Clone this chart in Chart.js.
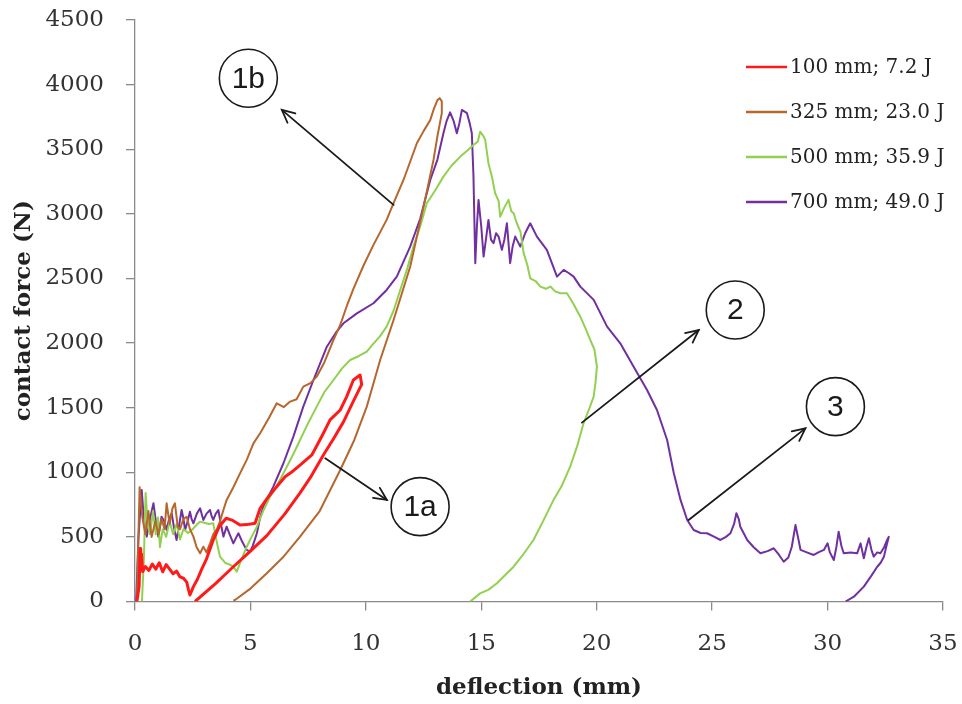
<!DOCTYPE html>
<html lang="en">
<head>
<meta charset="UTF-8">
<title>Contact force vs deflection</title>
<script src="https://cdn.jsdelivr.net/npm/chart.js"></script>
<style>
  html, body { margin: 0; padding: 0; background: #fff; }
</style>
</head>
<body>
<canvas id="chart" width="962" height="704"></canvas>
<script>
// values: [deflection (mm), contact force (N)]
const red = [[0.08,0],[0.18,120],[0.22,410],[0.25,250],[0.28,370],[0.33,230],[0.45,270],[0.6,240],[0.75,290],[0.9,250],[1.05,300],[1.2,230],[1.35,285],[1.5,250],[1.65,215],[1.8,235],[1.95,190],[2.1,180],[2.24,150],[2.32,90],[2.38,50],[2.45,80],[2.53,115],[2.7,170],[2.89,250],[3.1,330],[3.39,476],[3.65,580],[3.95,644],[4.2,630],[4.55,592],[4.85,595],[5.2,605],[5.42,721],[5.78,811],[6.1,880],[6.5,966],[6.85,1010],[7.15,1056],[7.66,1134],[7.95,1230],[8.16,1302],[8.45,1405],[8.89,1482],[9.17,1585],[9.46,1714],[9.75,1753],[9.82,1680],[9.46,1550],[9.03,1390],[8.6,1260],[8.16,1134],[7.6,960],[7.15,840],[6.5,680],[5.71,510],[5.0,390],[4.26,269],[3.5,140],[2.6,0]];

const brown = [[0.08,0],[0.2,885],[0.32,650],[0.45,520],[0.58,700],[0.72,500],[0.88,620],[1.02,520],[1.15,640],[1.28,560],[1.37,760],[1.5,600],[1.62,720],[1.73,760],[1.85,580],[1.95,560],[2.1,640],[2.24,656],[2.38,560],[2.53,502],[2.67,420],[2.82,373],[2.96,424],[3.1,380],[3.25,450],[3.39,520],[3.55,560],[3.68,620],[3.85,720],[3.97,786],[4.25,880],[4.55,992],[4.85,1100],[5.13,1224],[5.42,1302],[5.8,1420],[6.14,1534],[6.45,1505],[6.72,1547],[7.0,1565],[7.29,1663],[7.6,1690],[7.87,1740],[8.2,1850],[8.6,2024],[8.89,2140],[9.2,2300],[9.46,2420],[9.9,2600],[10.33,2760],[10.9,2953],[11.2,3082],[11.63,3262],[12.21,3546],[12.5,3640],[12.79,3727],[12.93,3804],[13.1,3880],[13.2,3895],[13.29,3870],[13.29,3779],[13.1,3600],[12.93,3417],[12.5,3056],[11.92,2591],[11.2,2179],[10.62,1869],[10.04,1508],[9.5,1250],[8.89,1018],[8.0,700],[7.15,502],[6.4,340],[5.71,218],[5.0,100],[4.33,12],[4.3,0]];

const green = [[0.3,0],[0.38,300],[0.46,840],[0.55,600],[0.65,520],[0.78,700],[0.9,520],[1.0,650],[1.08,420],[1.2,560],[1.35,500],[1.5,620],[1.65,520],[1.8,600],[1.95,480],[2.1,560],[2.3,530],[2.5,560],[2.7,600],[2.82,618],[3.0,610],[3.2,600],[3.39,605],[3.52,480],[3.68,347],[3.9,300],[4.1,285],[4.26,269],[4.41,231],[4.6,320],[4.84,424],[5.05,500],[5.28,579],[5.55,700],[5.85,811],[6.15,900],[6.43,992],[6.8,1120],[7.15,1250],[7.5,1380],[7.87,1508],[8.2,1620],[8.6,1714],[8.95,1800],[9.32,1869],[9.7,1900],[10.04,1934],[10.3,1990],[10.6,2050],[10.9,2127],[11.2,2250],[11.49,2411],[11.8,2580],[12.06,2746],[12.35,2900],[12.64,3082],[13.0,3180],[13.36,3288],[13.7,3370],[14.09,3443],[14.4,3490],[14.66,3533],[14.85,3560],[14.95,3636],[15.1,3600],[15.17,3572],[15.31,3392],[15.46,3288],[15.6,3159],[15.75,3100],[15.82,2978],[16.0,3050],[16.18,3108],[16.3,3020],[16.4,3005],[16.54,2927],[16.7,2860],[16.83,2700],[17.0,2600],[17.12,2500],[17.35,2480],[17.56,2437],[17.8,2420],[17.99,2437],[18.2,2400],[18.42,2385],[18.71,2385],[19.0,2300],[19.29,2204],[19.5,2120],[19.72,2024],[19.9,1950],[20.01,1817],[19.95,1700],[19.87,1585],[19.65,1480],[19.43,1379],[19.15,1200],[18.85,1043],[18.5,900],[18.13,786],[17.7,630],[17.26,476],[16.8,360],[16.4,269],[15.95,190],[15.68,141],[15.3,90],[14.95,63],[14.52,0]];

const purple = [[0.05,0],[0.15,500],[0.29,863],[0.38,650],[0.51,502],[0.65,640],[0.8,760],[0.92,600],[1.01,502],[1.15,656],[1.27,620],[1.37,553],[1.48,640],[1.59,682],[1.7,560],[1.8,476],[1.92,600],[2.02,708],[2.1,640],[2.17,553],[2.28,620],[2.38,695],[2.45,640],[2.53,605],[2.68,680],[2.82,721],[2.9,670],[2.96,631],[3.1,680],[3.25,708],[3.32,660],[3.39,631],[3.5,680],[3.61,708],[3.72,600],[3.83,502],[3.97,579],[4.1,520],[4.26,450],[4.37,490],[4.48,528],[4.65,460],[4.84,399],[4.98,386],[5.1,430],[5.28,528],[5.42,650],[5.56,734],[5.99,889],[6.43,1070],[6.86,1276],[7.29,1508],[7.73,1714],[8.31,1972],[8.7,2080],[9.03,2153],[9.61,2230],[10.33,2308],[10.9,2411],[11.34,2514],[11.92,2746],[12.35,2960],[12.79,3262],[13.1,3420],[13.36,3624],[13.5,3720],[13.65,3785],[13.8,3720],[13.94,3624],[14.05,3700],[14.16,3804],[14.38,3779],[14.5,3700],[14.59,3624],[14.66,3300],[14.74,2618],[14.81,2900],[14.88,3108],[15.0,2900],[15.1,2669],[15.2,2800],[15.31,2953],[15.42,2800],[15.53,2772],[15.64,2850],[15.75,2824],[15.89,2721],[16.0,2800],[16.11,2927],[16.25,2618],[16.36,2750],[16.47,2824],[16.69,2746],[16.9,2850],[17.12,2927],[17.41,2824],[17.84,2721],[18.28,2514],[18.57,2566],[18.8,2540],[19.0,2514],[19.29,2437],[19.87,2334],[20.45,2127],[21.02,1998],[21.6,1817],[22.18,1637],[22.61,1482],[23.05,1250],[23.34,992],[23.63,786],[23.92,631],[24.2,553],[24.5,530],[24.78,528],[25.1,500],[25.36,476],[25.6,500],[25.79,528],[25.95,600],[26.05,683],[26.15,640],[26.22,579],[26.52,476],[26.8,420],[27.09,373],[27.4,390],[27.67,412],[27.9,360],[28.1,308],[28.3,340],[28.45,424],[28.61,592],[28.75,470],[28.83,399],[29.1,380],[29.4,360],[29.6,380],[29.84,399],[30.0,450],[30.1,380],[30.27,321],[30.38,420],[30.48,540],[30.6,430],[30.7,373],[31.0,380],[31.28,373],[31.43,450],[31.57,334],[31.68,420],[31.79,489],[31.9,400],[32.0,347],[32.15,380],[32.29,373],[32.45,420],[32.58,476],[32.65,500],[32.55,430],[32.44,347],[32.3,300],[32.15,269],[31.9,200],[31.57,115],[31.14,37],[30.78,0]];

const seriesLabels = ['100 mm; 7.2 J', '325 mm; 23.0 J', '500 mm; 35.9 J', '700 mm; 49.0 J'];
const xTicks = [0, 5, 10, 15, 20, 25, 30, 35];
const yTicks = [0, 500, 1000, 1500, 2000, 2500, 3000, 3500, 4000, 4500];

// numbered callouts, in data units
const callouts = [
  { text: '1b', at: [4.91, 4049], from: [11.2, 3069], to: [6.36, 3804] },
  { text: '1a', at: [12.35, 734], from: [8.24, 1108], to: [10.91, 786] },
  { text: '2',  at: [26.0, 2256], from: [19.36, 1384], to: [24.42, 2101] },
  { text: '3',  at: [30.34, 1508], from: [23.98, 631], to: [29.04, 1340] }
];

const legendBox = {
  id: 'legendBox',
  afterDraw(chart) {
    const ctx = chart.ctx;
    ctx.save();
    ctx.font = '20px "DejaVu Serif"';
    ctx.textBaseline = 'middle';
    ctx.textAlign = 'left';
    chart.data.datasets.forEach((ds, i) => {
      const y = 67 + i * 45;
      ctx.strokeStyle = ds.borderColor;
      ctx.lineWidth = 2.5;
      ctx.beginPath();
      ctx.moveTo(746, y);
      ctx.lineTo(787, y);
      ctx.stroke();
      ctx.fillStyle = '#222';
      ctx.fillText(ds.label, 790, y + 1);
    });
    ctx.restore();
  }
};

const calloutPlugin = {
  id: 'callouts',
  afterDatasetsDraw(chart) {
    const { ctx, scales: { x, y } } = chart;
    ctx.save();
    ctx.strokeStyle = '#1a1a1a';
    ctx.lineCap = 'round';
    callouts.forEach(c => {
      const x0 = x.getPixelForValue(c.from[0]), y0 = y.getPixelForValue(c.from[1]);
      const x1 = x.getPixelForValue(c.to[0]), y1 = y.getPixelForValue(c.to[1]);
      ctx.lineWidth = 1.8;
      ctx.beginPath();
      ctx.moveTo(x0, y0);
      ctx.lineTo(x1, y1);
      ctx.stroke();
      // open arrow head
      const a = Math.atan2(y1 - y0, x1 - x0), h = 14;
      ctx.beginPath();
      ctx.moveTo(x1 - h * Math.cos(a - 0.45), y1 - h * Math.sin(a - 0.45));
      ctx.lineTo(x1, y1);
      ctx.lineTo(x1 - h * Math.cos(a + 0.45), y1 - h * Math.sin(a + 0.45));
      ctx.stroke();

      const cx = x.getPixelForValue(c.at[0]), cy = y.getPixelForValue(c.at[1]);
      ctx.lineWidth = 1.6;
      ctx.beginPath();
      ctx.arc(cx, cy, 29, 0, Math.PI * 2);
      ctx.fillStyle = '#fff';
      ctx.fill();
      ctx.stroke();
      ctx.fillStyle = '#1a1a1a';
      ctx.font = '30px "Liberation Sans"';
      ctx.textAlign = 'center';
      ctx.textBaseline = 'middle';
      ctx.fillText(c.text, cx, cy + 1);
    });
    ctx.restore();
  }
};

const tickFont = { family: 'DejaVu Serif', size: 23 };
const titleFont = { family: 'DejaVu Serif', size: 23, weight: 'bold' };

function line(label, data, color, width) {
  return {
    label, data,
    borderColor: color,
    backgroundColor: color,
    borderWidth: width,
    showLine: true,
    pointRadius: 0,
    tension: 0,
    fill: false,
    borderJoinStyle: 'round'
  };
}

new Chart(document.getElementById('chart'), {
  type: 'scatter',
  data: {
    datasets: [
      line(seriesLabels[0], red, '#ff1a1a', 3),
      line(seriesLabels[1], brown, '#b5672d', 2),
      line(seriesLabels[2], green, '#92d050', 2),
      line(seriesLabels[3], purple, '#7030a0', 2)
    ]
  },
  options: {
    responsive: false,
    animation: false,
    devicePixelRatio: 1,
    layout: { padding: { top: 20, right: 19, left: 0, bottom: 0 } },
    plugins: { legend: { display: false }, tooltip: { enabled: false } },
    scales: {
      x: {
        type: 'linear', min: 0, max: 35,
        afterBuildTicks: s => { s.ticks = xTicks.map(v => ({ value: v })); },
        afterFit: s => { s.height = 102.5; s.paddingLeft = 0; s.paddingRight = 0; },
        grid: { drawOnChartArea: false, drawTicks: true, tickLength: 9, color: '#8a8a8a', lineWidth: 1.3 },
        border: { display: true, color: '#8a8a8a', width: 1.3 },
        ticks: { font: tickFont, color: '#333', padding: 20, maxRotation: 0, callback: v => String(v) },
        title: { display: true, text: 'deflection (mm)', font: titleFont, color: '#222', padding: { top: 0, bottom: 2 } }
      },
      y: {
        type: 'linear', min: 0, max: 4500,
        afterBuildTicks: s => { s.ticks = yTicks.map(v => ({ value: v })); },
        afterFit: s => { s.width = 135; s.paddingTop = 0; s.paddingBottom = 0; },
        grid: { drawOnChartArea: false, drawTicks: true, tickLength: 9, color: '#8a8a8a', lineWidth: 1.3 },
        border: { display: true, color: '#8a8a8a', width: 1.3 },
        ticks: { font: tickFont, color: '#333', padding: 22, callback: v => String(v) },
        title: { display: true, text: 'contact force (N)', font: titleFont, color: '#222', padding: { top: 10, bottom: 0 } }
      }
    }
  },
  plugins: [calloutPlugin, legendBox]
});
</script>
</body>
</html>
